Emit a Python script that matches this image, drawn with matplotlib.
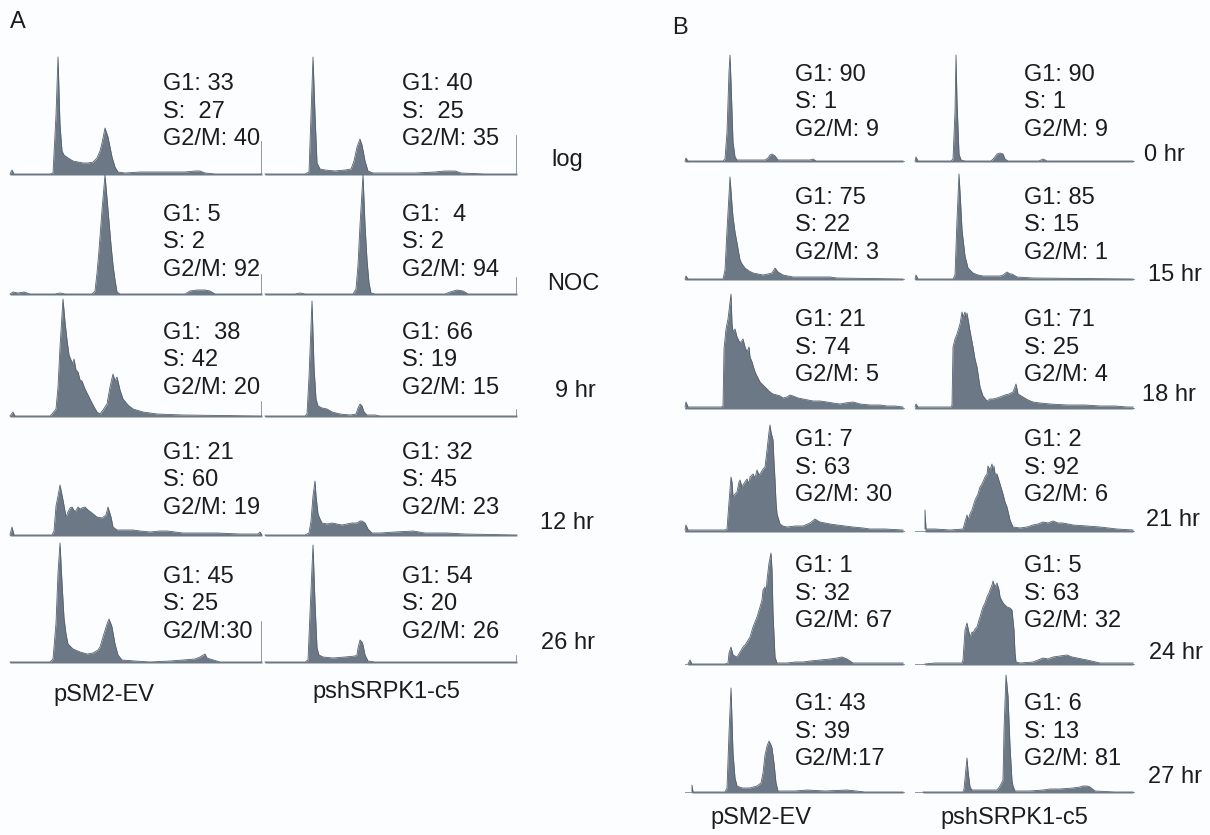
import matplotlib
matplotlib.use("Agg")
import matplotlib.pyplot as plt

plt.rcParams['font.family'] = ['Liberation Sans', 'DejaVu Sans']

W, H = 1210, 835
FILL = '#6c7886'
EDGE = '#55616d'
BASE = '#7d8894'
TXT = '#1c1c1c'

# ---------------- panel A histograms (channel, count) ----------------
a_log_ev = [(0,1),(2,5),(4,1),(40,1),(43,2),(46,60),(48,118),(50,50),(52,24),(54,20),(58,17),(63,14),
            (68,13),(73,12),(78,12),(83,13),(87,17),(90,24),(92,32),(95,47),(98,38),(102,18),(105,8),
            (108,3),(115,2),(130,3),(145,3),(160,3),(175,3),(185,4),(190,4),(195,2),(205,1),(230,1),(252,1)]
a_log_sh = [(0,1),(40,1),(44,3),(46,60),(48,118),(50,60),(52,12),(55,6),(60,5),(70,4),(80,5),(86,6),
            (89,14),(92,28),(95,36),(97,30),(100,14),(103,4),(108,2),(130,2),(150,2),(170,3),(180,4),
            (190,4),(196,2),(220,1),(252,1)]
a_noc_ev = [(0,1),(3,3),(8,2),(14,3),(20,1),(45,1),(50,2),(55,1),(82,1),(85,4),(87,22),(89,45),(92,85),
            (95,120),(98,85),(101,50),(103,30),(105,15),(107,3),(110,1),(175,1),(180,4),(187,5),(195,5),
            (200,4),(205,1),(252,1)]
a_noc_sh = [(0,1),(30,1),(35,2),(40,1),(88,1),(91,6),(93,30),(95,70),(98,120),(100,70),(102,35),(104,12),
            (106,2),(110,1),(180,1),(185,3),(192,5),(198,4),(203,1),(252,1)]
a_9hr_ev = [(0,1),(3,5),(5,1),(20,1),(40,1),(42,3),(46,8),(48,30),(50,70),(53,118),(55,95),(57,77),(59,62),
            (61,57),(63,53),(64,58),(66,47),(68,45),(70,37),(72,36),(75,28),(78,22),(81,16),(83,12),(87,5),
            (90,3),(93,7),(97,13),(100,30),(103,43),(105,36),(107,40),(110,27),(113,18),(118,12),(123,8),
            (133,5),(147,3),(173,2),(252,1)]
a_9hr_sh = [(0,1),(40,1),(42,3),(44,40),(47,116),(49,50),(51,18),(53,11),(57,9),(62,8),(67,5),(75,3),
            (85,2),(91,3),(93,9),(95,13),(97,11),(99,5),(102,2),(110,2),(115,1),(252,1)]
a_12hr_ev = [(0,1),(2,9),(4,1),(20,1),(42,1),(44,5),(46,30),(48,40),(50,51),(52,41),(53,36),(56,19),(58,24),
             (60,28),(62,29),(65,24),(68,29),(70,27),(72,28),(75,29),(78,26),(82,23),(87,19),(92,18),(96,21),
             (98,29),(101,19),(103,9),(107,6),(115,6),(123,6),(130,5),(140,4),(150,5),(157,5),(165,4),
             (173,3),(190,3),(207,3),(230,2),(248,2),(250,4),(252,1)]
a_12hr_sh = [(0,1),(40,1),(44,3),(46,15),(48,40),(50,55),(51,40),(53,22),(55,17),(57,13),(62,12),(67,13),
             (72,12),(77,11),(82,12),(87,13),(92,13),(95,15),(97,15),(100,13),(103,7),(107,3),(115,3),
             (130,4),(148,5),(160,3),(182,3),(200,2),(252,1)]
a_26hr_ev = [(0,1),(40,1),(43,4),(46,40),(48,90),(50,120),(52,80),(54,45),(56,29),(58,19),(63,14),(70,11),
             (77,9),(83,10),(88,13),(90,16),(93,26),(97,39),(99,44),(101,39),(102,36),(105,19),(108,8),
             (112,3),(125,2),(140,1),(160,2),(173,3),(185,4),(190,6),(195,9),(197,5),(200,4),(210,1),(252,1)]
a_26hr_sh = [(0,1),(40,1),(43,3),(45,50),(48,118),(50,60),(52,15),(54,8),(58,6),(68,5),(80,6),(90,7),
             (92,8),(93,15),(95,23),(97,21),(98,18),(100,8),(103,2),(110,1),(252,1)]

a_times = ["log", "NOC", "9 hr", "12 hr", "26 hr"]
a_ev = [a_log_ev, a_noc_ev, a_9hr_ev, a_12hr_ev, a_26hr_ev]
a_sh = [a_log_sh, a_noc_sh, a_9hr_sh, a_12hr_sh, a_26hr_sh]
a_ev_text = [["G1: 33", "S:  27", "G2/M: 40"], ["G1: 5", "S: 2", "G2/M: 92"], ["G1:  38", "S: 42", "G2/M: 20"],
             ["G1: 21", "S: 60", "G2/M: 19"], ["G1: 45", "S: 25", "G2/M:30"]]
a_sh_text = [["G1: 40", "S:  25", "G2/M: 35"], ["G1:  4", "S: 2", "G2/M: 94"], ["G1: 66", "S: 19", "G2/M: 15"],
             ["G1: 32", "S: 45", "G2/M: 23"], ["G1: 54", "S: 20", "G2/M: 26"]]
a_right_ticks = [(33, 39), (20, 17), (15, 7), (0, 0), (41, 7)]

# ---------------- panel B histograms ----------------
b_0hr_ev = [(0,1),(1,4),(3,1),(38,1),(40,3),(42,30),(44,90),(45,107),(46,80),(48,20),(50,5),(52,2),(80,2),
            (83,4),(85,7),(87,8),(90,6),(93,2),(125,2),(128,3),(131,1),(218,1)]
b_0hr_sh = [(0,1),(1,5),(3,1),(36,1),(38,3),(40,50),(41,107),(42,60),(44,8),(46,2),(50,1),(76,1),(79,4),
            (82,8),(85,9),(88,8),(90,3),(93,1),(124,1),(128,3),(132,1),(218,1)]
b_15hr_ev = [(0,1),(1,4),(3,1),(38,1),(40,10),(42,50),(45,103),(47,75),(48,63),(50,48),(52,37),(55,20),
             (57,16),(60,12),(64,9),(68,7),(73,6),(78,5),(83,6),(87,7),(90,12),(93,8),(98,5),(108,3),
             (120,3),(135,3),(145,3),(152,2),(218,1)]
b_15hr_sh = [(0,1),(1,5),(3,1),(38,1),(40,5),(42,60),(44,106),(46,70),(47,50),(50,24),(53,12),(58,7),
             (63,5),(68,4),(78,4),(85,4),(88,5),(92,8),(95,6),(97,6),(102,3),(118,2),(218,1)]
b_18hr_ev = [(0,2),(1,7),(3,2),(36,2),(38,3),(39,60),(41,80),(43,90),(46,115),(47,85),(48,77),(50,80),
             (52,72),(53,70),(55,66),(58,70),(60,62),(62,57),(64,62),(65,52),(67,47),(70,37),(72,33),
             (75,27),(78,24),(82,20),(85,17),(88,15),(92,14),(95,13),(98,11),(102,12),(105,14),(108,13),
             (113,11),(118,10),(123,9),(128,8),(135,8),(142,7),(148,6),(155,5),(160,6),(168,7),(175,5),
             (185,4),(195,4),(202,3),(210,3),(218,2)]
b_18hr_sh = [(0,2),(1,5),(3,2),(36,2),(37,4),(38,62),(40,70),(42,75),(45,85),(47,97),(48,92),(50,97),
             (51,90),(52,96),(55,78),(58,62),(60,50),(62,42),(65,22),(68,13),(72,8),(75,10),(78,10),
             (82,11),(85,12),(90,14),(94,15),(98,17),(101,25),(103,15),(108,12),(113,9),(118,7),(125,6),
             (135,5),(152,4),(170,4),(185,3),(200,3),(212,2),(218,2)]
b_21hr_ev = [(0,2),(1,7),(3,2),(40,2),(42,3),(44,30),(46,55),(47,50),(48,35),(50,38),(52,40),(54,50),
             (55,52),(57,45),(58,47),(60,50),(62,53),(64,48),(65,55),(67,57),(68,58),(70,54),(72,62),
             (74,57),(75,58),(78,63),(80,65),(82,82),(84,100),(85,107),(86,100),(88,92),(89,70),(90,52),
             (91,30),(92,18),(95,8),(98,6),(102,5),(110,6),(118,6),(125,9),(130,13),(133,11),(135,10),
             (145,8),(152,7),(160,6),(168,5),(178,4),(185,3),(200,3),(218,2)]
b_21hr_sh = [(10,3),(10,22),(11,3),(20,3),(35,2),(48,3),(50,10),(52,17),(53,12),(55,18),(57,22),(60,32),
             (63,38),(65,45),(67,48),(70,55),(72,58),(73,66),(75,62),(77,68),(78,60),(79,66),(80,58),
             (82,58),(85,48),(88,38),(90,30),(92,25),(95,12),(98,5),(105,4),(112,5),(118,7),(123,8),
             (128,10),(133,9),(138,11),(143,9),(148,9),(158,7),(172,6),(185,5),(202,3),(218,2)]
b_24hr_ev = [(3,1),(5,5),(7,1),(40,1),(43,2),(44,12),(46,18),(47,14),(48,10),(52,8),(55,13),(58,18),
             (60,20),(62,23),(65,28),(68,38),(72,48),(75,58),(77,65),(78,75),(80,78),(81,72),(82,85),
             (84,102),(86,112),(87,95),(88,52),(90,8),(92,2),(102,2),(110,3),(118,3),(125,4),(135,5),
             (145,6),(152,7),(157,8),(162,6),(168,2),(190,2),(218,2)]
b_24hr_sh = [(10,1),(20,2),(35,2),(47,2),(48,5),(49,20),(50,35),(52,42),(53,37),(55,28),(57,33),(58,32),
             (60,36),(62,38),(64,45),(65,48),(67,55),(68,58),(70,62),(72,68),(74,72),(75,75),(77,80),
             (78,84),(80,78),(82,82),(84,75),(85,68),(88,62),(92,58),(95,57),(97,55),(99,35),(100,12),
             (101,3),(105,2),(118,3),(128,7),(133,6),(138,8),(145,9),(152,10),(157,8),(162,7),(172,5),
             (185,2),(218,2)]
b_27hr_ev = [(7,1),(7,8),(8,1),(40,1),(42,5),(44,60),(46,105),(48,40),(50,15),(52,7),(57,5),(65,5),(72,7),
             (76,10),(78,20),(80,38),(82,47),(84,52),(86,48),(87,45),(89,30),(91,10),(93,2),(110,2),
             (122,3),(140,2),(162,3),(180,1),(218,1)]
b_27hr_sh = [(8,1),(20,1),(40,1),(48,1),(49,4),(51,25),(52,35),(53,22),(55,6),(57,3),(70,3),(82,3),(85,7),
             (88,13),(89,63),(91,118),(93,97),(95,47),(97,12),(98,7),(100,2),(115,2),(128,3),(135,4),
             (145,4),(158,5),(165,6),(168,7),(172,7),(175,6),(180,2),(200,1),(218,1)]

b_times = ["0 hr", "15 hr", "18 hr", "21 hr", "24 hr", "27 hr"]
b_ev = [b_0hr_ev, b_15hr_ev, b_18hr_ev, b_21hr_ev, b_24hr_ev, b_27hr_ev]
b_sh = [b_0hr_sh, b_15hr_sh, b_18hr_sh, b_21hr_sh, b_24hr_sh, b_27hr_sh]
b_ev_text = [["G1: 90", "S: 1", "G2/M: 9"], ["G1: 75", "S: 22", "G2/M: 3"], ["G1: 21", "S: 74", "G2/M: 5"],
             ["G1: 7", "S: 63", "G2/M: 30"], ["G1: 1", "S: 32", "G2/M: 67"], ["G1: 43", "S: 39", "G2/M:17"]]
b_sh_text = [["G1: 90", "S: 1", "G2/M: 9"], ["G1: 85", "S: 15", "G2/M: 1"], ["G1: 71", "S: 25", "G2/M: 4"],
             ["G1: 2", "S: 92", "G2/M: 6"], ["G1: 5", "S: 63", "G2/M: 32"], ["G1: 6", "S: 13", "G2/M: 81"]]
groups = ["pSM2-EV", "pshSRPK1-c5"]

# ---------------- layout (pixels) ----------------
a_left = [10, 265]
a_width = 252
a_base = [175, 295, 417, 536, 663]
a_text_x = [163, 402]
a_text_y = [84, 215, 333, 453, 577]
a_time_pos = [(551, 160), (547, 284), (555, 391), (540, 523), (541, 643)]

b_left = [685, 915]
b_width = 220
b_base = [162, 280, 409, 532, 665, 793]
b_text_x = [795, 1024]
b_text_y = [75, 198, 320, 440, 566, 704]
b_time_pos = [(1144, 155), (1148, 275), (1142, 395), (1146, 520), (1149, 653), (1148, 777)]

LINE = 27.5
FS = 17

fig = plt.figure(figsize=(W / 100, H / 100), dpi=100)
fig.patch.set_facecolor('#fcfdfe')


def px_axes(left, base, width, height=120):
    ax = fig.add_axes([left / W, 1 - base / H, width / W, height / H])
    ax.patch.set_visible(False)
    ax.axis('off')
    return ax


def draw_hist(ax, pts, xmax, tick=0):
    x = [p[0] for p in pts]
    y = [p[1] for p in pts]
    ax.set_xlim(0, xmax)
    ax.set_ylim(0, 120)
    ax.axhline(0, color=BASE, lw=1.2, zorder=1)
    ax.fill_between(x, 0, y, color=FILL, lw=0, clip_on=False, zorder=2)
    ax.plot(x, y, color=EDGE, lw=0.6, clip_on=False, zorder=3)
    if tick:
        ax.axvline(xmax, ymin=0, ymax=tick / 120, color=BASE, lw=1.2)


def ftext(x, y, s, size=FS):
    fig.text(x / W, 1 - y / H, s, fontsize=size, color=TXT, va='center')


# panel A
for r in range(len(a_times)):
    for c, data in enumerate([a_ev[r], a_sh[r]]):
        ax = px_axes(a_left[c], a_base[r], a_width)
        draw_hist(ax, data, 252, a_right_ticks[r][c])
        lines = [a_ev_text, a_sh_text][c][r]
        for i, s in enumerate(lines):
            ftext(a_text_x[c], a_text_y[r] + i * LINE, s)
    ftext(a_time_pos[r][0], a_time_pos[r][1], a_times[r])

# panel B
for r in range(len(b_times)):
    for c, data in enumerate([b_ev[r], b_sh[r]]):
        ax = px_axes(b_left[c], b_base[r], b_width)
        draw_hist(ax, data, 220)
        lines = [b_ev_text, b_sh_text][c][r]
        for i, s in enumerate(lines):
            ftext(b_text_x[c], b_text_y[r] + i * LINE, s)
    ftext(b_time_pos[r][0], b_time_pos[r][1], b_times[r])

ftext(53, 695, groups[0])
ftext(312, 692, groups[1])
ftext(710, 818, groups[0])
ftext(940, 818, groups[1])
ftext(10, 22, "A", size=17)
ftext(672, 28, "B", size=17)

fig.savefig("out.png", dpi=100, facecolor=fig.get_facecolor())
